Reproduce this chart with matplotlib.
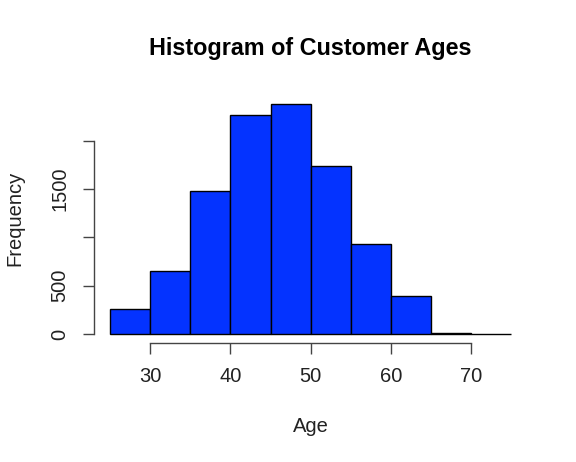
import numpy as np
import matplotlib
matplotlib.use("Agg")
import matplotlib.pyplot as plt

plt.rcParams['font.family'] = ['Liberation Sans', 'DejaVu Sans']

# ── Data: histogram bins (5-year age groups) and counts ──
bin_edges = [25, 30, 35, 40, 45, 50, 55, 60, 65, 70, 75]
counts    = [262, 655, 1479, 2262, 2382, 1741, 928, 393, 10, 1]

x_ticks  = [30, 40, 50, 60, 70]
y_ticks  = [0, 500, 1000, 1500, 2000]
y_labels = ["0", "500", "", "1500", ""]

# ── Figure ──
fig = plt.figure(figsize=(5.76, 4.62), dpi=100)
ax = fig.add_axes([0.1636, 0.2571, 0.915 - 0.1636, 0.7955 - 0.2571])

lefts  = np.array(bin_edges[:-1])
widths = np.diff(bin_edges)
ax.bar(lefts, counts, width=widths, align="edge",
       color="#0433FF", edgecolor="black", linewidth=1.0)

ax.set_xlim(23, 77)
ax.set_ylim(-95, 2477)

# R-style axes: detached, only spanning the tick range
for side in ("top", "right"):
    ax.spines[side].set_visible(False)
ax.spines["left"].set_bounds(0, 2000)
ax.spines["bottom"].set_bounds(30, 70)
for side in ("left", "bottom"):
    ax.spines[side].set_color("#444444")
    ax.spines[side].set_linewidth(1.0)

ax.set_xticks(x_ticks)
ax.set_xticklabels([str(t) for t in x_ticks])
ax.set_yticks(y_ticks)
ax.set_yticklabels(y_labels, rotation=90, va="center")
ax.tick_params(axis="both", length=8, width=1.0, color="#444444",
               labelsize=14.5, labelcolor="#222222")
ax.tick_params(axis="x", pad=9)
ax.tick_params(axis="y", pad=10)

fig.text(0.5 * (0.1636 + 0.915), 1 - 48 / 462, "Histogram of Customer Ages",
         ha="center", va="center", fontsize=16.8, fontweight="bold")
fig.text(0.5 * (0.1636 + 0.915), 1 - 426 / 462, "Age",
         ha="center", va="center", fontsize=14.5, color="#222222")
fig.text(15 / 576, 1 - 0.5 * (94.5 + 343.2) / 462, "Frequency",
         ha="center", va="center", rotation=90, fontsize=14.5, color="#222222")

fig.savefig("out.png", dpi=100, facecolor="white")
